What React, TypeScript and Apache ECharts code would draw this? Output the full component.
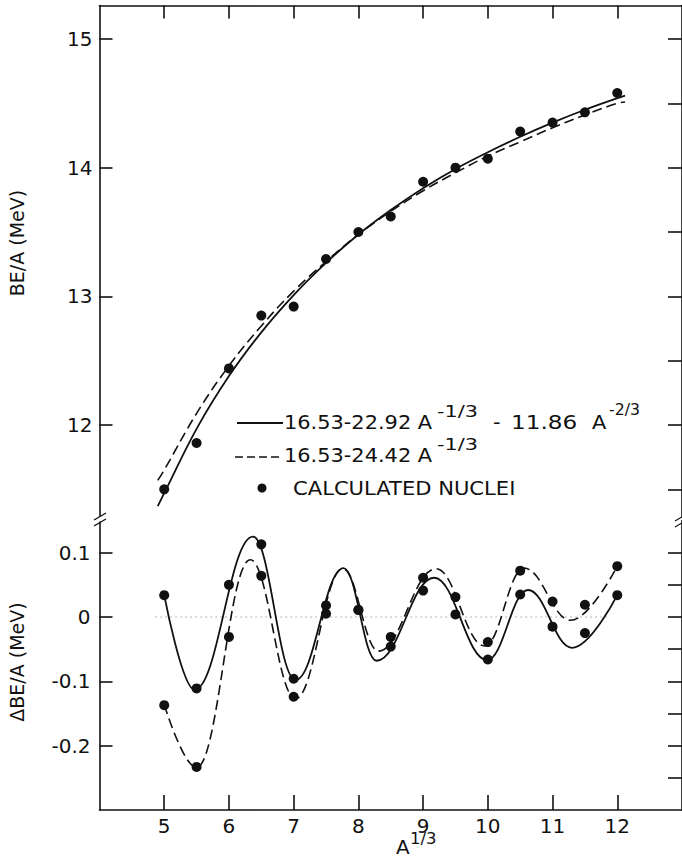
import React, { useEffect, useRef } from "react";
import * as echarts from "echarts";

// ---------- data ----------
const xTicks = [5, 6, 7, 8, 9, 10, 11, 12];
const beTickLabels = [12, 13, 14, 15];
const beRightTicks = [11.5, 12, 12.5, 13, 13.5, 14, 14.5, 15];
const dTickLabels = [0.1, 0, -0.1, -0.2];
const dTicks = [0.1, 0.05, 0, -0.05, -0.1, -0.15, -0.2, -0.25];

const nucleiX = [5, 5.5, 6, 6.5, 7, 7.5, 8, 8.5, 9, 9.5, 10, 10.5, 11, 11.5, 12];
const nucleiBE = [11.5, 11.86, 12.44, 12.85, 12.92, 13.29, 13.5, 13.62, 13.89, 14.0, 14.07, 14.28, 14.35, 14.43, 14.58];

// curve 16.53-22.92 A^-1/3 - 11.86 A^-2/3 (solid) as drawn
const fitSolidBE = [
  [4.9, 11.37], [5, 11.47], [5.5, 11.97], [6, 12.38], [6.5, 12.72], [7, 13.01], [7.5, 13.26],
  [8, 13.48], [8.5, 13.67], [9, 13.84], [9.5, 13.99], [10, 14.12], [10.5, 14.24], [11, 14.35],
  [11.5, 14.45], [12, 14.54], [12.12, 14.56],
];
// curve 16.53-24.42 A^-1/3 (dashed) as drawn
const fitDashedBE = [
  [4.9, 11.57], [5, 11.65], [5.5, 12.09], [6, 12.46], [6.5, 12.77], [7, 13.04], [7.5, 13.27],
  [8, 13.48], [8.5, 13.66], [9, 13.82], [9.5, 13.96], [10, 14.09], [10.5, 14.2], [11, 14.31],
  [11.5, 14.41], [12, 14.5], [12.12, 14.51],
];

// ΔBE/A of the calculated nuclei relative to each fit
const deltaSolidDots = [0.034, -0.111, 0.05, 0.113, -0.096, 0.018, 0.011, -0.046, 0.041, 0.004, -0.066, 0.035, -0.015, -0.025, 0.034];
const deltaDashedDots = [-0.137, -0.233, -0.031, 0.064, -0.124, 0.005, 0.011, -0.031, 0.061, 0.031, -0.039, 0.072, 0.024, 0.019, 0.079];

// hand-drawn guide curves through the residuals: end points and turning points
const deltaSolidCurve = [
  [5.0, 0.034], [5.47, -0.113], [6.37, 0.125], [7.03, -0.098], [7.77, 0.076], [8.28, -0.068],
  [9.17, 0.061], [9.99, -0.067], [10.62, 0.042], [11.3, -0.048], [12.0, 0.034],
];
const deltaDashedCurve = [
  [5.0, -0.136], [5.5, -0.234], [6.33, 0.089], [7.03, -0.127], [7.76, 0.075], [8.31, -0.053],
  [9.2, 0.075], [9.95, -0.045], [10.56, 0.076], [11.28, -0.005], [12.0, 0.079],
];
const zeroLine = [[4.86, 0], [11.85, 0]];

// ---------- component ----------
const FONT = "DejaVu Sans";
const INK = "#111";

export default function App() {
  const ref = useRef<HTMLDivElement>(null);

  useEffect(() => {
    if (!ref.current) return;
    const chart = echarts.init(ref.current, undefined, { renderer: "svg" });

    const axisLine = { show: true, onZero: false, lineStyle: { color: INK, width: 1.6 } };
    const tickStyle = { color: INK, width: 1.6 };

    const dots = (ys: number[]) => nucleiX.map((x, i) => [x, ys[i]]);
    const dotStyle = { color: INK, opacity: 1 };

    const txt = (text: string, x: number, y: number, size: number, sx = 1.1) => ({
      type: "text", x, y, scaleX: sx,
      style: { text, fontFamily: FONT, fontSize: size, fill: INK, align: "left", verticalAlign: "middle" },
    });

    const option: any = {
      animation: false,
      backgroundColor: "#fff",
      grid: [
        { left: 99.5, top: 5.5, right: -2.5, height: 511.5 },
        { left: 99.5, top: 520.5, right: -2.5, height: 289.5 },
      ],
      xAxis: [
        {
          type: "value", gridIndex: 0, position: "top", min: 4, max: 13,
          axisLine, splitLine: { show: false },
          axisTick: { show: true, inside: true, length: 13, lineStyle: tickStyle, customValues: xTicks },
          axisLabel: { show: false },
        },
        {
          type: "value", gridIndex: 1, position: "bottom", min: 4, max: 13,
          axisLine, splitLine: { show: false },
          axisTick: { show: true, inside: true, length: 15, lineStyle: tickStyle, customValues: xTicks },
          axisLabel: {
            show: true, customValues: xTicks, margin: 6, color: INK,
            fontFamily: FONT, fontSize: 20,
          },
        },
      ],
      yAxis: [
        {
          type: "value", gridIndex: 0, position: "left", min: 11.285, max: 15.26,
          axisLine, splitLine: { show: false },
          axisTick: { show: true, inside: true, length: 13, lineStyle: tickStyle, customValues: beTickLabels },
          axisLabel: {
            show: true, customValues: beTickLabels, margin: 7, color: INK,
            fontFamily: FONT, fontSize: 20,
          },
        },
        {
          type: "value", gridIndex: 0, position: "right", min: 11.285, max: 15.26,
          axisLine, splitLine: { show: false },
          axisTick: { show: true, inside: true, length: 14, lineStyle: tickStyle, customValues: beRightTicks },
          axisLabel: { show: false },
        },
        {
          type: "value", gridIndex: 1, position: "left", min: -0.3, max: 0.15,
          axisLine, splitLine: { show: false },
          axisTick: { show: true, inside: true, length: 13, lineStyle: tickStyle, customValues: dTickLabels },
          axisLabel: {
            show: true, customValues: dTickLabels, margin: 9, color: INK,
            fontFamily: FONT, fontSize: 20,
            formatter: (v: number) => (Math.abs(v) < 1e-9 ? "0" : String(v)),
          },
        },
        {
          type: "value", gridIndex: 1, position: "right", min: -0.3, max: 0.15,
          axisLine, splitLine: { show: false },
          axisTick: { show: true, inside: true, length: 14, lineStyle: tickStyle, customValues: dTicks },
          axisLabel: { show: false },
        },
      ],
      series: [
        {
          name: "solid fit", type: "line", xAxisIndex: 0, yAxisIndex: 0, data: fitSolidBE,
          smooth: 0.4, showSymbol: false, lineStyle: { color: INK, width: 1.8 }, z: 3,
        },
        {
          name: "dashed fit", type: "line", xAxisIndex: 0, yAxisIndex: 0, data: fitDashedBE,
          smooth: 0.4, showSymbol: false, lineStyle: { color: INK, width: 1.6, type: [10, 5] }, z: 3,
        },
        {
          name: "calculated nuclei", type: "scatter", xAxisIndex: 0, yAxisIndex: 0, data: dots(nucleiBE),
          symbol: "circle", symbolSize: 10, itemStyle: dotStyle, z: 4,
        },
        {
          name: "zero", type: "line", xAxisIndex: 1, yAxisIndex: 2, data: zeroLine,
          showSymbol: false, lineStyle: { color: "#b5b5b5", width: 1, type: [2, 3] }, z: 1,
        },
        {
          name: "delta solid", type: "line", xAxisIndex: 1, yAxisIndex: 2, data: deltaSolidCurve,
          smooth: 0.4, smoothMonotone: "x", showSymbol: false, lineStyle: { color: INK, width: 1.8 }, z: 3,
        },
        {
          name: "delta dashed", type: "line", xAxisIndex: 1, yAxisIndex: 2, data: deltaDashedCurve,
          smooth: 0.4, smoothMonotone: "x", showSymbol: false, lineStyle: { color: INK, width: 1.6, type: [10, 5] }, z: 3,
        },
        {
          name: "delta solid dots", type: "scatter", xAxisIndex: 1, yAxisIndex: 2, data: dots(deltaSolidDots),
          symbol: "circle", symbolSize: 10, itemStyle: dotStyle, z: 4,
        },
        {
          name: "delta dashed dots", type: "scatter", xAxisIndex: 1, yAxisIndex: 2, data: dots(deltaDashedDots),
          symbol: "circle", symbolSize: 10, itemStyle: dotStyle, z: 4,
        },
      ],
      graphic: [
        // axis break marks
        { type: "rect", shape: { x: 94, y: 516.5, width: 12, height: 5 }, style: { fill: "#fff" }, z: 50 },
        { type: "line", shape: { x1: 94, y1: 520, x2: 106, y2: 513 }, style: { stroke: INK, lineWidth: 1.4 }, z: 51 },
        { type: "line", shape: { x1: 94, y1: 526, x2: 106, y2: 519 }, style: { stroke: INK, lineWidth: 1.4 }, z: 51 },
        { type: "line", shape: { x1: 675, y1: 521, x2: 687, y2: 514 }, style: { stroke: INK, lineWidth: 1.2 }, z: 51 },
        { type: "line", shape: { x1: 675, y1: 527, x2: 687, y2: 520 }, style: { stroke: INK, lineWidth: 1.2 }, z: 51 },
        // y-axis titles
        {
          type: "text", x: 17, y: 243, rotation: Math.PI / 2,
          style: { text: "BE/A (MeV)", fontFamily: FONT, fontSize: 19, fill: INK, align: "center", verticalAlign: "middle" },
        },
        {
          type: "text", x: 17, y: 662, rotation: Math.PI / 2,
          style: { text: "ΔBE/A (MeV)", fontFamily: FONT, fontSize: 19, fill: INK, align: "center", verticalAlign: "middle" },
        },
        // x-axis title
        txt("A", 396, 848, 19, 1.05),
        txt("1/3", 410, 839, 15, 1.1),
        // legend
        { type: "line", shape: { x1: 237, y1: 423, x2: 283, y2: 423 }, style: { stroke: INK, lineWidth: 1.8 } },
        txt("16.53-22.92 A", 284, 422, 19),
        txt("-1/3", 437, 411, 16, 1.3),
        txt("-", 493, 422, 19),
        txt("11.86", 511, 422, 19, 1.22),
        txt("A", 592, 422, 19),
        txt("-2/3", 609, 410, 15, 1.05),
        { type: "line", shape: { x1: 235, y1: 457, x2: 283, y2: 457 }, style: { stroke: INK, lineWidth: 1.6, lineDash: [8, 4] } },
        txt("16.53-24.42 A", 284, 455, 19),
        txt("-1/3", 437, 444, 16, 1.3),
        { type: "circle", shape: { cx: 262, cy: 488, r: 4.5 }, style: { fill: INK } },
        txt("CALCULATED NUCLEI", 293, 488, 19, 1.11),
      ],
    };

    chart.setOption(option);
    return () => chart.dispose();
  }, []);

  return (
    <div
      ref={ref}
      style={{ position: "absolute", left: 0, top: 0, width: 682, height: 861, background: "#fff" }}
    />
  );
}
